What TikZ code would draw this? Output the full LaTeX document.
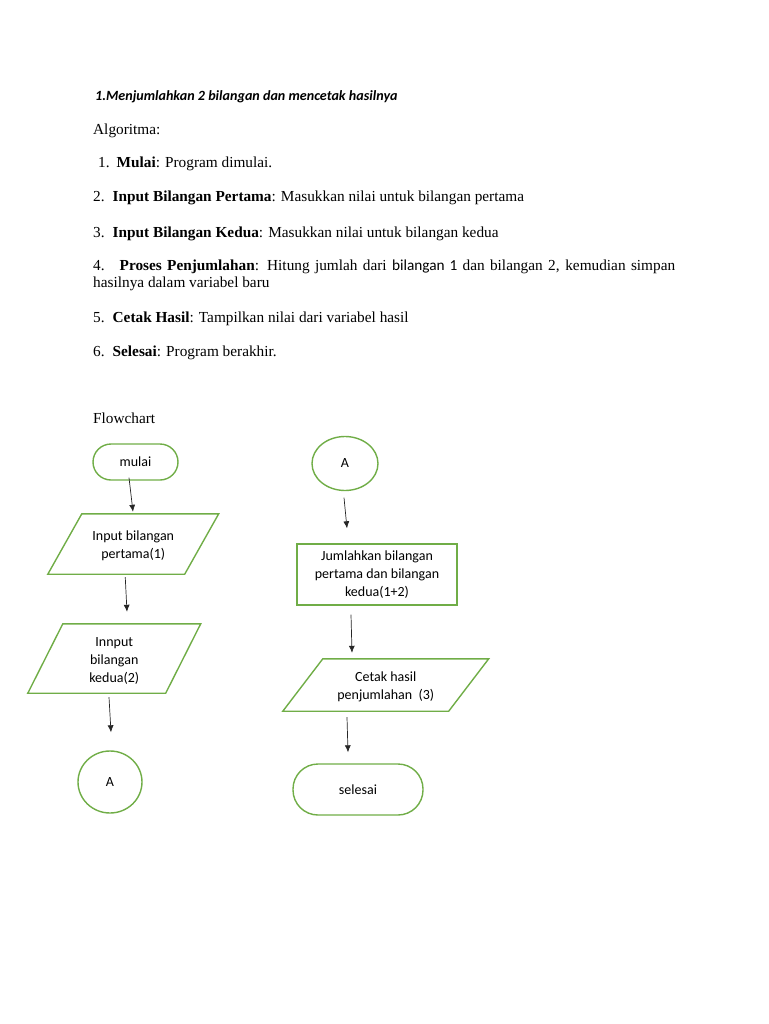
\documentclass[tikz,border=0pt]{standalone}
\usepackage{fontspec}
\setmainfont{Liberation Serif}
\newfontfamily\calibri{Carlito}
\usetikzlibrary{positioning,calc}
\usetikzlibrary{arrows.meta,shapes.geometric}
\definecolor{FlowGreen}{RGB}{112,173,71}
\tikzset{
  txt/.style={anchor=base west,inner sep=0pt,font=\fontsize{15.3}{17}\selectfont},
  head/.style={anchor=base west,inner sep=0pt,font=\calibri\fontsize{14.1}{17}\selectfont\bfseries\itshape},
  term/.style={draw=FlowGreen,line width=1.4pt,inner sep=0pt,align=center,font=\calibri\fontsize{14}{18}\selectfont},
  io/.style={inner sep=0pt,align=center,font=\calibri\fontsize{14}{18}\selectfont},
  box/.style={draw=FlowGreen,line width=1.4pt,inner sep=0pt,align=center,font=\calibri\fontsize{14}{18}\selectfont},
  conn/.style={ellipse,draw=FlowGreen,line width=1.4pt,inner sep=0pt,font=\calibri\fontsize{14}{18}\selectfont},
}
\tikzset{slant/.style={draw=FlowGreen,line width=1.4pt}, arr/.style={draw=black!85,line width=0.7pt,-{Latex[length=7pt,width=6pt]}}}

\begin{document}
\begin{tikzpicture}[x=1pt,y=-1pt]
\useasboundingbox (0,0) rectangle (768,1024);
\node[head] (judul) at (95,101) {1.Menjumlahkan 2 bilangan dan mencetak hasilnya};
\node[txt] (algo) at (93,135) {Algoritma:};
\node[txt] (s1) at (98,168) {1.\hspace{7pt}\textbf{Mulai}: Program dimulai.};
\node[txt] (s2) at (93,202) {2.\hspace{8pt}\textbf{Input Bilangan Pertama}: Masukkan nilai untuk bilangan pertama};
\node[txt] (s3) at (93,237) {3.\hspace{8pt}\textbf{Input Bilangan Kedua}: Masukkan nilai untuk bilangan kedua};
\node[txt] (s4a) at (93,270) {\makebox[582pt][s]{4. \ \textbf{Proses Penjumlahan}: Hitung jumlah dari {\calibri bilangan 1} dan bilangan 2, kemudian simpan}};
\node[txt] (s4b) at (93,287) {hasilnya dalam variabel baru};
\node[txt] (s5) at (93,322) {5.\hspace{8pt}\textbf{Cetak Hasil}: Tampilkan nilai dari variabel hasil};
\node[txt] (s6) at (93,356) {6.\hspace{8pt}\textbf{Selesai}: Program berakhir.};
\node[txt] (fc) at (93,423) {Flowchart};

\node[term,minimum width=85pt,minimum height=36pt,rounded corners=18pt] (mulai) at (135.5,462) {mulai};
\node[io,minimum width=136.5pt,minimum height=60pt] (in1) at (133.25,546) {Input bilangan\\pertama(1)};
\draw[slant] ($(in1.north west)+(17,-2)$) -- ($(in1.north east)+(17,-2)$) -- ($(in1.south east)+(-17,-2)$) -- ($(in1.south west)+(-17,-2)$) -- cycle;
\node[io,minimum width=137.5pt,minimum height=69pt] (in2) at (114.25,660.5) {Innput\\bilangan\\kedua(2)};
\draw[slant] ($(in2.north west)+(17.5,-2)$) -- ($(in2.north east)+(17.5,-2)$) -- ($(in2.south east)+(-17.5,-2)$) -- ($(in2.south west)+(-17.5,-2)$) -- cycle;
\node[conn,minimum width=64pt,minimum height=62pt] (a1) at (110,782) {A};

\node[conn,minimum width=66pt,minimum height=54pt] (a2) at (345,463.5) {A};
\node[box,minimum width=160pt,minimum height=61pt] (jumlah) at (377,574.5) {Jumlahkan bilangan\\pertama dan bilangan\\kedua(1+2)};
\node[io,minimum width=165.5pt,minimum height=52pt] (cetak) at (385.75,687) {Cetak hasil\\penjumlahan\ \ (3)};
\draw[slant] ($(cetak.north west)+(20,-2)$) -- ($(cetak.north east)+(20,-2)$) -- ($(cetak.south east)+(-20,-2)$) -- ($(cetak.south west)+(-20,-2)$) -- cycle;
\node[term,minimum width=130pt,minimum height=51pt,rounded corners=25pt] (selesai) at (358,789.5) {selesai};

\draw[arr] ([xshift=-6.5pt,yshift=3pt]mulai.south) -- ([xshift=-0.25pt,yshift=4pt]in1.north);
\draw[arr] ([xshift=-8pt,yshift=-1pt]in1.south) -- ([xshift=12.75pt,yshift=14pt]in2.north);
\draw[arr] ([xshift=-5.25pt,yshift=-2pt]in2.south) -- ([xshift=1pt,yshift=18pt]a1.north);
\draw[arr] ([xshift=-1pt,yshift=-6.5pt]a2.south) -- ([xshift=-30pt,yshift=15pt]jumlah.north);
\draw[arr] ([xshift=-26pt,yshift=-9pt]jumlah.south) -- ([xshift=-33.75pt,yshift=8pt]cetak.north);
\draw[arr] ([xshift=-38.75pt,yshift=-4pt]cetak.south) -- ([xshift=-10pt,yshift=11pt]selesai.north);
\end{tikzpicture}
\end{document}
